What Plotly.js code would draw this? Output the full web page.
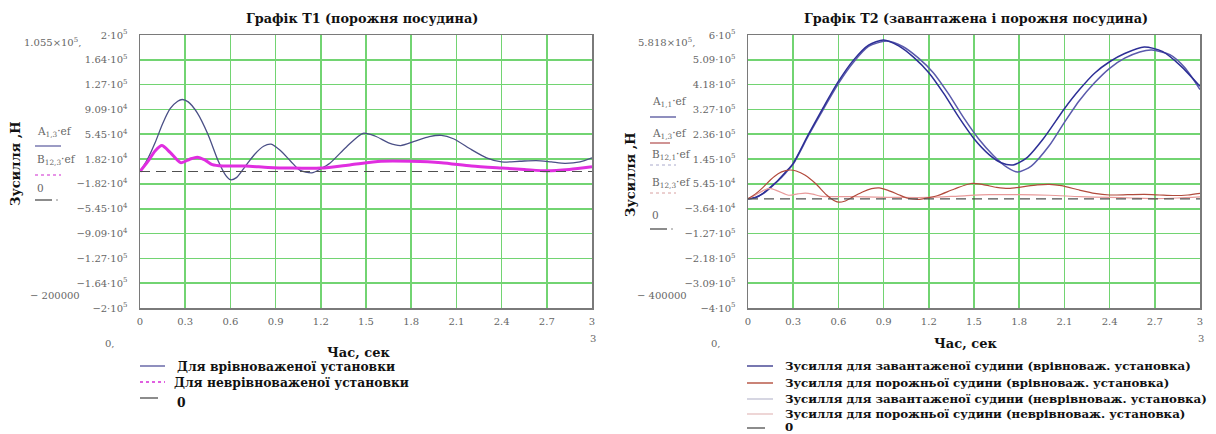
<!DOCTYPE html>
<html>
<head>
<meta charset="utf-8">
<script src="https://cdn.plot.ly/plotly-3.0.1.min.js"></script>
<style>
html,body{margin:0;padding:0;background:#fff;}
#chart{width:1216px;height:434px;}
</style>
</head>
<body>
<div id="chart"></div>
<script>
// ---------- DATA (forces in N, time in s) ----------
// Empty vessel, balanced installation (A1,3·ef)
const tEmptyBal = [0,0.05,0.1,0.15,0.2,0.25,0.28,0.32,0.38,0.45,0.52,0.57,0.6,0.64,0.7,0.76,0.82,0.87,0.93,1.0,1.06,1.14,1.2,1.26,1.37,1.48,1.56,1.65,1.73,1.82,1.92,2.0,2.08,2.2,2.3,2.4,2.52,2.63,2.73,2.82,2.92,3.0];
const fEmptyBal = [0,18000,42000,70000,92000,103000,105500,102000,86000,55000,15000,-6000,-12000,-9000,8000,25000,37000,40000,31000,15000,2000,-2000,4000,12000,36000,56000,52000,42000,38000,44000,51000,53000,48000,32000,20000,14000,15000,16000,14000,12000,14000,20000];
// Empty vessel, unbalanced installation (B12,3·ef)
const tEmptyUnbal = [0,0.05,0.1,0.145,0.2,0.27,0.33,0.38,0.43,0.48,0.55,0.7,0.85,1.0,1.2,1.4,1.6,1.8,2.0,2.2,2.4,2.55,2.7,2.85,3.0];
const fEmptyUnbal = [0,14000,30000,38000,28000,13000,18000,21000,17000,10000,8000,8000,6000,5000,5000,10000,15000,15000,13000,8000,5000,3000,1000,3000,7000];
// Loaded vessel, balanced installation (A1,1·ef)
const tLoadBal = [0,0.05,0.1,0.15,0.2,0.25,0.3,0.4,0.5,0.6,0.7,0.8,0.9,1.0,1.1,1.2,1.3,1.4,1.5,1.6,1.68,1.76,1.85,1.96,2.1,2.2,2.3,2.4,2.5,2.63,2.75,2.87,3.0];
const fLoadBal = [0,5000,20000,43000,68000,98000,130000,235000,335000,430000,508000,563000,582000,560000,518000,462000,385000,298000,220000,162000,132000,124000,150000,220000,330000,400000,460000,502000,532000,556000,540000,488000,412000];
// Loaded vessel, unbalanced installation (B12,1·ef)
const tLoadUnbal = [0,0.05,0.1,0.15,0.2,0.25,0.3,0.4,0.5,0.6,0.7,0.8,0.92,1.03,1.13,1.23,1.33,1.43,1.53,1.63,1.72,1.79,1.88,2.0,2.1,2.2,2.3,2.4,2.5,2.6,2.68,2.8,2.9,3.0];
const fLoadUnbal = [0,5000,19000,41000,66000,95000,127000,230000,328000,422000,500000,558000,578000,557000,516000,462000,385000,298000,220000,158000,115000,98000,120000,195000,280000,360000,425000,478000,515000,538000,545000,528000,480000,400000];
const tZero = [0,3];
const fZero = [0,0];

// Tick labels
const xTickVals = [0,0.3,0.6,0.9,1.2,1.5,1.8,2.1,2.4,2.7,3];
const xTickText = ['0','0.3','0.6','0.9','1.2','1.5','1.8','2.1','2.4','2.7','3'];
const y1TickVals = [-200000,-163636,-127273,-90909,-54545,-18182,18182,54545,90909,127273,163636,200000];
const y1TickText = ['−2·10<sup>5</sup>','−1.64·10<sup>5</sup>','−1.27·10<sup>5</sup>','−9.09·10<sup>4</sup>','−5.45·10<sup>4</sup>','−1.82·10<sup>4</sup>','1.82·10<sup>4</sup>','5.45·10<sup>4</sup>','9.09·10<sup>4</sup>','1.27·10<sup>5</sup>','1.64·10<sup>5</sup>','2·10<sup>5</sup>'];
const y2TickVals = [-400000,-309091,-218182,-127273,-36364,54545,145455,236364,327273,418182,509091,600000];
const y2TickText = ['−4·10<sup>5</sup>','−3.09·10<sup>5</sup>','−2.18·10<sup>5</sup>','−1.27·10<sup>5</sup>','−3.64·10<sup>4</sup>','5.45·10<sup>4</sup>','1.45·10<sup>5</sup>','2.36·10<sup>5</sup>','3.27·10<sup>5</sup>','4.18·10<sup>5</sup>','5.09·10<sup>5</sup>','6·10<sup>5</sup>'];

const title1 = 'Графік T1 (порожня посудина)';
const title2 = 'Графік T2 (завантажена і порожня посудина)';
const xTitle = 'Час, сек';
const yTitle = 'Зусилля ,Н';
const legend1 = ['Для врівноваженої установки','Для неврівноваженої установки','0'];
const legend2 = ['Зусилля для завантаженої судини (врівноваж. установка)','Зусилля для порожньої судини (врівноваж. установка)','Зусилля для завантаженої судини (неврівноваж. установка)','Зусилля для порожньої судини (неврівноваж. установка)','0'];

// ---------- STYLE ----------
const W = 1216, H = 434;
const px = x => x / W;
const py = y => 1 - y / H;
const SERIF = 'DejaVu Serif';
const C_A1 = '#4a4f86';
const C_B1 = '#e02ee0';
const C_LB = '#2d2f96';
const C_EB = '#b24a3c';
const C_LU = '#5a5aac';
const C_EU = '#e89a9a';
const C_Z = '#505050';
const GRID = '#72d472';

const spl = {shape:'spline', smoothing:0.7};
const traces = [
  {x:tEmptyBal, y:fEmptyBal, xaxis:'x', yaxis:'y', mode:'lines', line:Object.assign({color:C_A1, width:1.3}, spl)},
  {x:tEmptyUnbal, y:fEmptyUnbal, xaxis:'x', yaxis:'y', mode:'lines', line:Object.assign({color:C_B1, width:3}, spl)},
  {x:tZero, y:fZero, xaxis:'x', yaxis:'y', mode:'lines', line:{color:C_Z, width:1.2, dash:'10px,6px'}},
  {x:tLoadUnbal, y:fLoadUnbal, xaxis:'x2', yaxis:'y2', mode:'lines', line:Object.assign({color:C_LU, width:1.5}, spl)},
  {x:tLoadBal, y:fLoadBal, xaxis:'x2', yaxis:'y2', mode:'lines', line:Object.assign({color:C_LB, width:1.5}, spl)},
  {x:tEmptyUnbal, y:fEmptyUnbal, xaxis:'x2', yaxis:'y2', mode:'lines', line:Object.assign({color:C_EU, width:1.2}, spl)},
  {x:tEmptyBal, y:fEmptyBal, xaxis:'x2', yaxis:'y2', mode:'lines', line:Object.assign({color:C_EB, width:1.2}, spl)},
  {x:tZero, y:fZero, xaxis:'x2', yaxis:'y2', mode:'lines', line:{color:C_Z, width:1.2, dash:'10px,6px'}}
];

const tickFont = {family:SERIF, size:10, color:'#666'};
function xa(domain, anchor){
  return {domain:domain, anchor:anchor, range:[0,3], tickvals:xTickVals, ticktext:xTickText,
    showgrid:true, gridcolor:GRID, gridwidth:1.6, zeroline:false, showline:true, linecolor:'#7a7a7a', linewidth:1.5, mirror:true,
    ticks:'', tickfont:tickFont, ticklabelstandoff:3, fixedrange:true};
}
function ya(range, vals, text, anchor){
  return {domain:[py(308), py(35)], anchor:anchor, range:range, tickvals:vals, ticktext:text,
    showgrid:true, gridcolor:GRID, gridwidth:1.6, zeroline:false, showline:true, linecolor:'#7a7a7a', linewidth:1.5, mirror:true,
    ticks:'', tickfont:tickFont, ticklabelstandoff:9, fixedrange:true};
}

const ann = [];
const shapes = [];
function txt(x, y, text, opt){
  ann.push(Object.assign({xref:'paper', yref:'paper', x:px(x), y:py(y), text:text, showarrow:false,
    font:{family:SERIF, size:11, color:'#555'}, xanchor:'center', yanchor:'middle'}, opt||{}));
}
function seg(x0, x1, y, color, width, dash){
  shapes.push({type:'line', xref:'paper', yref:'paper', x0:px(x0), x1:px(x1), y0:py(y), y1:py(y),
    line:{color:color, width:width, dash:dash||'solid'}});
}
const bold = s => ({family:SERIF, size:s, color:'#111', weight:'bold'});

// titles
txt(362, 19, title1, {font:bold(12.8)});
txt(976, 19, title2, {font:bold(12.8)});
// x titles
txt(358, 352, xTitle, {font:bold(13)});
txt(965, 343, xTitle, {font:bold(13)});
// y titles
txt(16, 164, yTitle, {textangle:-90, font:bold(13)});
txt(630, 175, yTitle, {textangle:-90, font:bold(13)});

// Mathcad markers
const markFont = {family:SERIF, size:10, color:'#666'};
txt(52, 42, '1.055×10<sup>5</sup>,', {font:markFont});
txt(666, 42, '5.818×10<sup>5</sup>,', {font:markFont});
txt(55, 295, '− 200000', {font:markFont});
txt(662, 295, '− 400000', {font:markFont});
txt(110, 343, '0,', {font:markFont});
txt(716, 343, '0,', {font:markFont});
txt(593, 338, '3', {font:markFont});
txt(1201, 338, '3', {font:markFont});

// mini legends left
const miniFont = {family:SERIF, size:10.5, color:'#666'};
txt(35, 132, 'A<sub>1,3</sub>·ef', {xanchor:'left', font:miniFont});
seg(35, 61, 146, '#7a7ab0', 1.5);
txt(35, 160, 'B<sub>12,3</sub>·ef', {xanchor:'left', font:miniFont});
seg(35, 61, 175, '#e070e0', 1.5, 'dot');
txt(35, 188, '0', {xanchor:'left', font:miniFont});
seg(35, 52, 200, '#666', 1.5);
seg(56, 58, 200, '#888', 1);
// mini legends right
txt(650, 102, 'A<sub>1,1</sub>·ef', {xanchor:'left', font:miniFont});
seg(650, 676, 117, '#6a6aa8', 1.5);
txt(650, 134, 'A<sub>1,3</sub>·ef', {xanchor:'left', font:miniFont});
seg(650, 670, 143, '#c07070', 1.5);
txt(650, 155, 'B<sub>12,1</sub>·ef', {xanchor:'left', font:miniFont});
seg(650, 676, 165, '#aaaacc', 1, 'dot');
txt(650, 183, 'B<sub>12,3</sub>·ef', {xanchor:'left', font:miniFont});
seg(650, 676, 193, '#d8a0a0', 1, 'dot');
txt(650, 215, '0', {xanchor:'left', font:miniFont});
seg(650, 667, 229, '#666', 1.5);
seg(671, 673, 229, '#888', 1);

// bottom legends
const L1y = [366, 382, 398];
seg(140, 165, L1y[0], '#6a6aa8', 1.5);
seg(140, 165, L1y[1], '#e060e0', 2, 'dot');
seg(140, 158, L1y[2], '#666', 1.5);
legend1.forEach((s,i)=>txt(i===1?172:175, L1y[i] + (i===2?4:0), s, {xanchor:'left', font:bold(12.3)}));
const L2y = [366, 383, 399, 414, 428];
const L2c = ['#4a4a96','#b85a4a','#c8c8d8','#e8c8c8','#666'];
L2y.forEach((y,i)=>seg(747, i===4?765:773, y, L2c[i], 1.5));
legend2.forEach((s,i)=>txt(783, L2y[i] - (i===4?1:0), s, {xanchor:'left', font:bold(11.8)}));

const layout = {
  width:W, height:H, margin:{l:0, r:0, t:0, b:0}, paper_bgcolor:'#fff', plot_bgcolor:'#fff',
  showlegend:false, font:{family:SERIF},
  xaxis: xa([px(140), px(592)], 'y'),
  yaxis: ya([-200000, 200000], y1TickVals, y1TickText, 'x'),
  xaxis2: xa([px(748), px(1200)], 'y2'),
  yaxis2: ya([-400000, 600000], y2TickVals, y2TickText, 'x2'),
  annotations: ann, shapes: shapes
};
Plotly.newPlot('chart', traces, layout, {staticPlot:true, displayModeBar:false});
</script>
</body>
</html>
